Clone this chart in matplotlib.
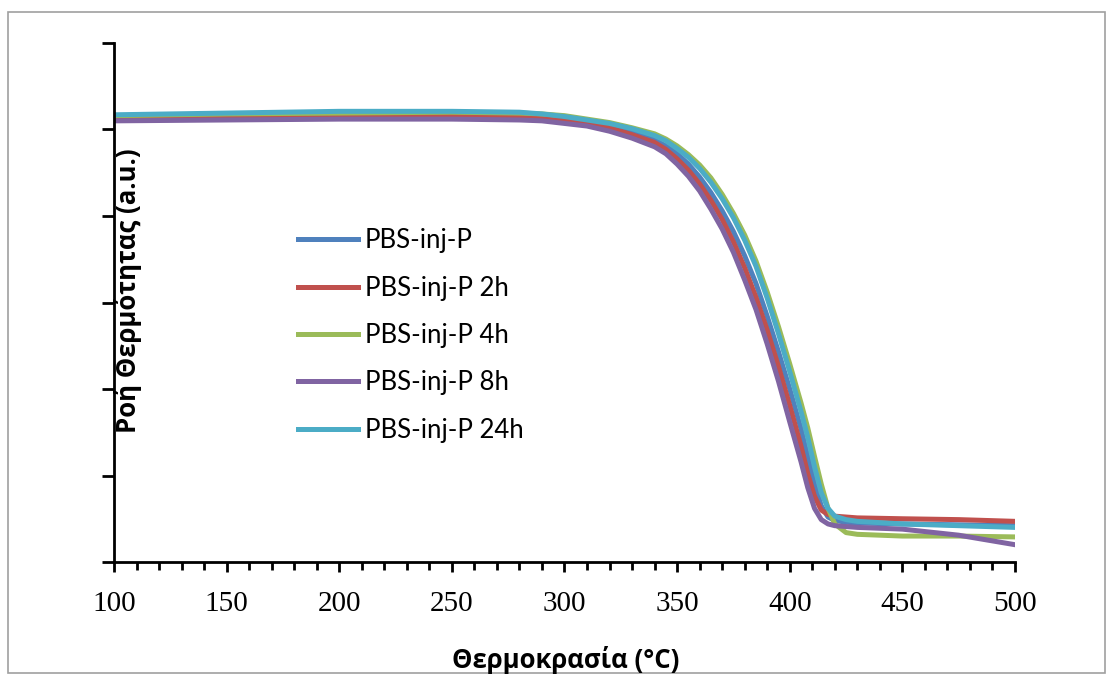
import matplotlib
matplotlib.use('Agg')
import matplotlib.pyplot as plt
from matplotlib.patches import Rectangle
from matplotlib.ticker import MultipleLocator, NullFormatter

# temperature grid (°C)
temp = [100, 150, 200, 250, 280, 290, 300, 310, 320, 330,
        340, 345, 350, 355, 360, 365, 370, 375, 380, 385,
        390, 395, 400, 405, 408, 411, 414, 417, 420, 425,
        430, 450, 475, 500]

# heat flow (a.u.)
pbs_0h = [5.15, 5.16, 5.17, 5.18, 5.17, 5.15, 5.13, 5.09, 5.04, 4.97,
          4.88, 4.81, 4.72, 4.60, 4.45, 4.27, 4.06, 3.82, 3.54, 3.22,
          2.84, 2.43, 2.00, 1.54, 1.22, 0.90, 0.65, 0.52, 0.48, 0.46,
          0.45, 0.44, 0.43, 0.42]
pbs_2h = [5.13, 5.14, 5.15, 5.15, 5.14, 5.13, 5.10, 5.07, 5.02, 4.94,
          4.85, 4.77, 4.66, 4.53, 4.37, 4.18, 3.96, 3.70, 3.40, 3.06,
          2.68, 2.26, 1.81, 1.34, 1.02, 0.76, 0.60, 0.55, 0.53, 0.52,
          0.51, 0.50, 0.49, 0.47]
pbs_4h = [5.16, 5.18, 5.19, 5.20, 5.19, 5.18, 5.16, 5.12, 5.08, 5.02,
          4.95, 4.89, 4.81, 4.71, 4.59, 4.44, 4.25, 4.03, 3.78, 3.48,
          3.12, 2.72, 2.29, 1.84, 1.55, 1.22, 0.90, 0.62, 0.44, 0.34,
          0.32, 0.30, 0.30, 0.29]
pbs_8h = [5.10, 5.11, 5.12, 5.12, 5.11, 5.10, 5.07, 5.04, 4.98, 4.90,
          4.80, 4.72, 4.60, 4.46, 4.29, 4.08, 3.85, 3.58, 3.26, 2.92,
          2.52, 2.09, 1.62, 1.16, 0.86, 0.62, 0.49, 0.44, 0.42, 0.41,
          0.40, 0.38, 0.31, 0.20]
pbs_24h = [5.17, 5.19, 5.21, 5.21, 5.20, 5.18, 5.15, 5.11, 5.07, 5.01,
           4.93, 4.87, 4.78, 4.68, 4.55, 4.39, 4.20, 3.98, 3.72, 3.42,
           3.05, 2.64, 2.20, 1.74, 1.44, 1.10, 0.80, 0.62, 0.53, 0.49,
           0.47, 0.44, 0.42, 0.40]

labels = ['PBS-inj-P', 'PBS-inj-P 2h', 'PBS-inj-P 4h', 'PBS-inj-P 8h', 'PBS-inj-P 24h']
colors = ['#4F81BD', '#C0504D', '#9BBB59', '#8064A2', '#4BACC6']
series = [pbs_0h, pbs_2h, pbs_4h, pbs_8h, pbs_24h]

fig = plt.figure(figsize=(11.1, 6.75), dpi=100)
ax = fig.add_axes([0.1027, 0.1674, 0.8117, 0.7689])

for y, lab, c in zip(series, labels, colors):
    ax.plot(temp, y, color=c, lw=3.6, label=lab, solid_joinstyle='round')

ax.set_xlim(100, 500)
ax.set_ylim(0, 6)
ax.xaxis.set_major_locator(MultipleLocator(50))
ax.xaxis.set_minor_locator(MultipleLocator(10))
ax.yaxis.set_major_locator(MultipleLocator(1))
ax.yaxis.set_major_formatter(NullFormatter())

for s in ['top', 'right']:
    ax.spines[s].set_visible(False)
for s in ['left', 'bottom']:
    ax.spines[s].set_linewidth(2)
    ax.spines[s].set_color('black')

ax.tick_params(axis='x', which='major', direction='out', length=7, width=2, pad=14)
ax.tick_params(axis='x', which='minor', direction='out', length=6, width=2)
ax.tick_params(axis='y', which='major', direction='out', length=9, width=2)
for t in ax.get_xticklabels():
    t.set_fontfamily('Liberation Serif')
    t.set_fontsize(21)

fig.text(128 / 1110, 1 - 291 / 675, 'Ροή Θερμότητας (a.u.)', rotation=90,
         ha='center', va='center', fontsize=18.5, fontweight='bold',
         family=['Open Sans', 'DejaVu Sans'])
fig.text(566 / 1110, 1 - 660 / 675, 'Θερμοκρασία (°C)', ha='center', va='center',
         fontsize=18.5, fontweight='bold', family=['Open Sans', 'DejaVu Sans'])

leg = ax.legend(loc='upper left', bbox_to_anchor=(0.204, 0.643), frameon=False,
                handlelength=2.33, handletextpad=0.27, labelspacing=0.87,
                borderpad=0, borderaxespad=0,
                prop={'family': 'Lato', 'size': 18.5})
for line in leg.get_lines():
    line.set_linewidth(3.6)

fig.patches.append(Rectangle((8 / 1110, 2 / 675), 1097 / 1110, 661 / 675,
                             transform=fig.transFigure, fill=False,
                             edgecolor='#A0A0A0', lw=1.2))

fig.savefig('out.png', dpi=100)
